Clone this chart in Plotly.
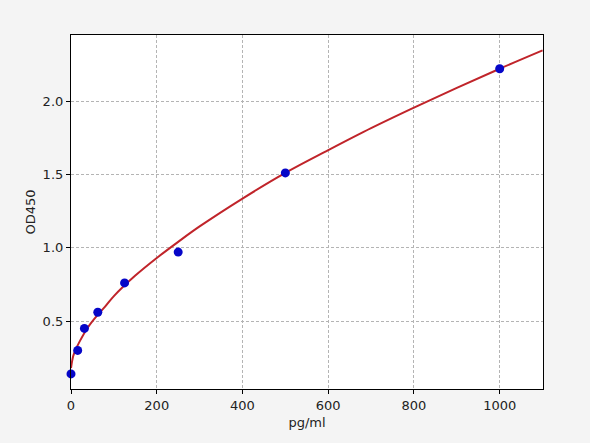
import plotly.graph_objects as go

# standard points
conc = [0, 15.6, 31.25, 62.5, 125, 250, 500, 1000]
od = [0.14, 0.30, 0.45, 0.56, 0.76, 0.97, 1.51, 2.22]

# fitted curve
curve_x = [0, 5, 10, 20, 40, 60, 80, 100, 150, 200, 250, 300, 400, 500,
           600, 700, 800, 900, 1000, 1100]
curve_y = [0.18, 0.26, 0.30, 0.36, 0.46, 0.535, 0.60, 0.67, 0.81, 0.93, 1.04,
           1.145, 1.335, 1.51, 1.665, 1.815, 1.955, 2.09, 2.22, 2.345]

x_ticks = [0, 200, 400, 600, 800, 1000]
y_ticks = [0.5, 1.0, 1.5, 2.0]

fig = go.Figure()
fig.add_trace(go.Scatter(x=curve_x, y=curve_y, mode='lines',
                         line=dict(color='#c0242a', width=2, shape='spline'),
                         showlegend=False))
fig.add_trace(go.Scatter(x=conc, y=od, mode='markers',
                         marker=dict(color='#0606c8', size=9),
                         showlegend=False, cliponaxis=False))

axis_style = dict(showline=True, linecolor='black', linewidth=1.2, mirror=True,
                  ticks='outside', ticklen=4, tickcolor='black',
                  showgrid=True, gridcolor='#b4b4b4', griddash='3px,2px',
                  gridwidth=1, zeroline=False,
                  tickfont=dict(size=13, color='#222222'),
                  title_font=dict(size=13, color='#222222'))

fig.update_layout(
    width=590, height=443,
    margin=dict(l=71, r=47, t=35, b=54),
    paper_bgcolor='#f4f4f4', plot_bgcolor='white',
    font=dict(family='DejaVu Sans'),
    xaxis=dict(range=[0, 1101], tickvals=x_ticks, title=dict(text='pg/ml', standoff=6),
               **axis_style),
    yaxis=dict(range=[0.037, 2.45], tickvals=y_ticks, tickformat='.1f',
               title=dict(text='OD450', standoff=4), **axis_style),
)

fig.write_html("out.html", config={'displayModeBar': False},
               post_script="document.body.style.margin='0';")
